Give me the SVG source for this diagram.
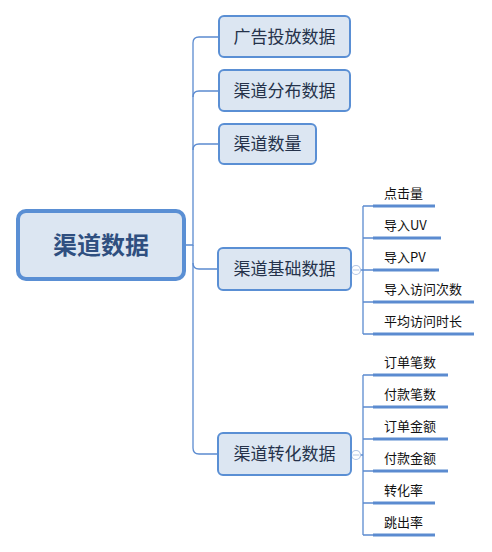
<svg xmlns="http://www.w3.org/2000/svg" width="492" height="552" viewBox="0 0 492 552">
<style>
.conn{fill:none;stroke:#5b8bd0;stroke-width:1.3}
.ul{stroke:#5b8bd0;stroke-width:3}
.n1 rect{fill:#dce6f2;stroke:#5a8fd4;stroke-width:2}
.n1 text{font-family:"Noto Sans CJK SC","Microsoft YaHei",sans-serif;font-size:17px;fill:#25324a;text-anchor:middle}
.leaf text{font-family:"Noto Sans CJK SC",sans-serif;font-size:13px;fill:#111}
.col{fill:#fff;stroke:#b4c6e4;stroke-width:1.2}
</style>
<rect width="492" height="552" fill="#fff"/>
<g id="connectors">
<path class="conn" d="M185,245 H193 V43 Q193,37 199,37 H219"/>
<path class="conn" d="M193,97 Q193,91 199,91 H219"/>
<path class="conn" d="M193,150 Q193,144 199,144 H219"/>
<path class="conn" d="M193,245 V263 Q193,269 199,269 H218"/>
<path class="conn" d="M193,263 V448 Q193,454 199,454 H218"/>
<path class="conn" d="M351,270 H363 M363,206 V334 M363,206 H374 M363,238 H374 M363,270 H374 M363,302 H374 M363,334 H374"/>
<path class="conn" d="M351,455 H363 M363,375 V535 M363,375 H374 M363,407 H374 M363,439 H374 M363,471 H374 M363,503 H374 M363,535 H374"/>
<circle class="col" cx="356" cy="270" r="4.5"/>
<line x1="353" y1="270" x2="359" y2="270" stroke="#b4c6e4" stroke-width="1"/>
<circle class="col" cx="356" cy="455" r="4.5"/>
<line x1="353" y1="455" x2="359" y2="455" stroke="#b4c6e4" stroke-width="1"/>
</g>
<g id="root">
<rect x="18" y="211" width="166" height="68" rx="8" fill="#dce6f2" stroke="#5a8fd4" stroke-width="4"/>
<text x="101" y="254" font-family="Noto Sans CJK SC, sans-serif" font-size="24" font-weight="bold" fill="#2f4f80" text-anchor="middle">渠道数据</text>
</g>
<g id="n-ad" class="n1"><rect x="219" y="16" width="131" height="41" rx="5"/><text x="284.5" y="42.5">广告投放数据</text></g>
<g id="n-dist" class="n1"><rect x="219" y="70" width="131" height="41" rx="5"/><text x="284.5" y="96.5">渠道分布数据</text></g>
<g id="n-count" class="n1"><rect x="219" y="124" width="97" height="40" rx="5"/><text x="267.5" y="150">渠道数量</text></g>
<g id="n-base" class="n1"><rect x="218" y="248" width="133" height="42" rx="5"/><text x="284.5" y="275">渠道基础数据</text></g>
<g id="n-conv" class="n1"><rect x="218" y="433" width="133" height="42" rx="5"/><text x="284.5" y="460">渠道转化数据</text></g>
<g id="l1" class="leaf"><text x="384" y="198">点击量</text><line class="ul" x1="373" y1="206" x2="435" y2="206"/></g>
<g id="l2" class="leaf"><text x="384" y="230">导入UV</text><line class="ul" x1="373" y1="238" x2="441" y2="238"/></g>
<g id="l3" class="leaf"><text x="384" y="262">导入PV</text><line class="ul" x1="373" y1="270" x2="439" y2="270"/></g>
<g id="l4" class="leaf"><text x="384" y="294">导入访问次数</text><line class="ul" x1="373" y1="302" x2="474" y2="302"/></g>
<g id="l5" class="leaf"><text x="384" y="326">平均访问时长</text><line class="ul" x1="373" y1="334" x2="474" y2="334"/></g>
<g id="l6" class="leaf"><text x="384" y="367">订单笔数</text><line class="ul" x1="373" y1="375" x2="448" y2="375"/></g>
<g id="l7" class="leaf"><text x="384" y="399">付款笔数</text><line class="ul" x1="373" y1="407" x2="448" y2="407"/></g>
<g id="l8" class="leaf"><text x="384" y="431">订单金额</text><line class="ul" x1="373" y1="439" x2="448" y2="439"/></g>
<g id="l9" class="leaf"><text x="384" y="463">付款金额</text><line class="ul" x1="373" y1="471" x2="448" y2="471"/></g>
<g id="l10" class="leaf"><text x="384" y="495">转化率</text><line class="ul" x1="373" y1="503" x2="435" y2="503"/></g>
<g id="l11" class="leaf"><text x="384" y="527">跳出率</text><line class="ul" x1="373" y1="535" x2="435" y2="535"/></g>
</svg>
